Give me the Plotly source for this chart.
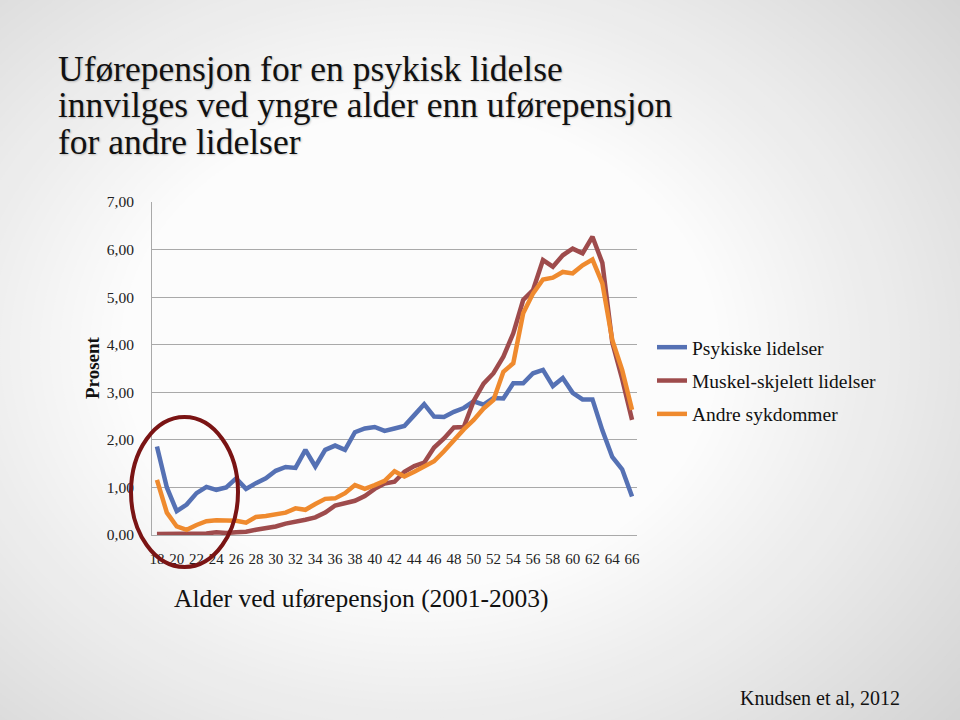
import plotly.graph_objects as go

# ---- data ----
ages = list(range(18, 67))
psykiske = [1.86, 1.0, 0.5, 0.64, 0.88, 1.01, 0.95, 1.0, 1.19, 0.97,
            1.09, 1.19, 1.35, 1.43, 1.41, 1.79, 1.44, 1.79, 1.88, 1.79,
            2.16, 2.24, 2.27, 2.19, 2.24, 2.29, 2.52, 2.75, 2.49, 2.48,
            2.59, 2.67, 2.81, 2.74, 2.88, 2.87, 3.19, 3.19, 3.4, 3.47,
            3.13, 3.3, 2.99, 2.85, 2.85, 2.2, 1.64, 1.38, 0.81]
muskel = [0.02, 0.02, 0.02, 0.02, 0.03, 0.03, 0.06, 0.04, 0.06, 0.07,
          0.11, 0.14, 0.18, 0.24, 0.27, 0.32, 0.37, 0.47, 0.62, 0.67,
          0.72, 0.82, 0.97, 1.08, 1.12, 1.33, 1.45, 1.52, 1.84, 2.03,
          2.26, 2.27, 2.82, 3.18, 3.4, 3.75, 4.24, 4.94, 5.15, 5.78,
          5.64, 5.88, 6.02, 5.92, 6.27, 5.72, 4.05, 3.28, 2.42]
andre = [1.16, 0.47, 0.18, 0.11, 0.21, 0.29, 0.31, 0.31, 0.3, 0.26,
         0.38, 0.4, 0.43, 0.47, 0.56, 0.53, 0.65, 0.76, 0.77, 0.88,
         1.05, 0.97, 1.05, 1.14, 1.34, 1.23, 1.33, 1.45, 1.55, 1.76,
         2.0, 2.22, 2.42, 2.66, 2.84, 3.43, 3.61, 4.66, 5.08, 5.37,
         5.41, 5.53, 5.5, 5.67, 5.79, 5.29, 4.1, 3.47, 2.63]
series_names = ["Psykiske lidelser", "Muskel-skjelett lidelser", "Andre sykdommer"]
x_ticks = list(range(18, 67, 2))
y_ticks = [0, 1, 2, 3, 4, 5, 6, 7]

colors = ["#5571B4", "#9E4B4C", "#EF8A2E"]
FONT = "Liberation Serif"

# plot area in pixels
L, R, T, B = 152, 637, 202, 535
W, H = 960, 720


def px(x):
    return (x - L) / (R - L)


def py(y):
    return (B - y) / (B - T)


fig = go.Figure()
for i, (name, vals) in enumerate(zip(series_names, [psykiske, muskel, andre])):
    fig.add_trace(go.Scatter(
        x=ages, y=vals, mode="lines", name=name,
        line=dict(color=colors[i], width=4.5),
        legendgroup=name, hoverinfo="x+y+name",
    ))

shapes = []
# soft radial background gradient (slide background)
cx, cy = 420, 350
for rr in range(760, 290, -10):
    g = int(round(252 - 0.097 * (rr - 300)))
    g = min(252, g)
    col = f"rgb({g},{g},{g})"
    shapes.append(dict(type="circle", xref="paper", yref="paper", layer="below",
                       x0=px(cx - rr), x1=px(cx + rr), y0=py(cy + rr * 0.8), y1=py(cy - rr * 0.8),
                       fillcolor=col, line=dict(width=0)))
# red ellipse highlight
shapes.append(dict(type="circle", xref="paper", yref="paper", layer="above",
                   x0=px(131), x1=px(238), y0=py(567), y1=py(417),
                   line=dict(color="#7A1414", width=4), fillcolor="rgba(0,0,0,0)"))

annotations = []
title_lines = ["Uførepensjon for en psykisk lidelse",
               "innvilges ved yngre alder enn uførepensjon",
               "for andre lidelser"]
for k, line in enumerate(title_lines):
    annotations.append(dict(
        text=line, xref="paper", yref="paper", x=px(56), y=py(69 + 36.5 * k),
        xanchor="left", yanchor="middle", showarrow=False,
        font=dict(family=FONT, size=35.5, color="#111111", shadow="1px 1px 2px rgba(0,0,0,0.22)")))
annotations.append(dict(text="<b>Prosent</b>", xref="paper", yref="paper", x=px(92), y=py(368),
                        textangle=-90, showarrow=False, xanchor="center", yanchor="middle",
                        font=dict(family=FONT, size=19, color="#111111")))
annotations.append(dict(text="Alder ved uførepensjon (2001-2003)", xref="paper", yref="paper",
                        x=px(361), y=py(598), showarrow=False, xanchor="center", yanchor="middle",
                        font=dict(family=FONT, size=25.5, color="#111111")))
annotations.append(dict(text="Knudsen et al, 2012", xref="paper", yref="paper",
                        x=px(902), y=py(698), showarrow=False, xanchor="right", yanchor="middle",
                        font=dict(family=FONT, size=20, color="#111111")))

fig.update_layout(
    width=W, height=H,
    margin=dict(l=L, r=W - R, t=T, b=H - B, pad=0),
    paper_bgcolor="rgb(207,207,207)",
    plot_bgcolor="rgba(0,0,0,0)",
    separators=",.",
    shapes=shapes,
    annotations=annotations,
    showlegend=True,
    legend=dict(x=px(652), y=py(328), xanchor="left", yanchor="top",
                bgcolor="rgba(0,0,0,0)", font=dict(family=FONT, size=19.5, color="#111111"),
                traceorder="grouped", tracegroupgap=5, itemwidth=30),
    font=dict(family=FONT, color="#222222"),
)
fig.update_xaxes(range=[17.5, 66.5], tickmode="array", tickvals=x_ticks,
                 ticktext=[str(v) for v in x_ticks], showgrid=False, zeroline=False,
                 showline=True, linecolor="#a9a9a9", linewidth=1, ticks="",
                 ticklabelstandoff=10, tickfont=dict(family=FONT, size=15, color="#222222"))
fig.update_yaxes(range=[0, 7], tickmode="array", tickvals=y_ticks, tickformat=".2f",
                 showgrid=True, gridcolor="#a9a9a9", gridwidth=1, zeroline=False,
                 showline=True, linecolor="#a9a9a9", linewidth=1, ticks="",
                 ticklabelstandoff=14, tickfont=dict(family=FONT, size=15.5, color="#222222"))

fig.write_html("out.html")
